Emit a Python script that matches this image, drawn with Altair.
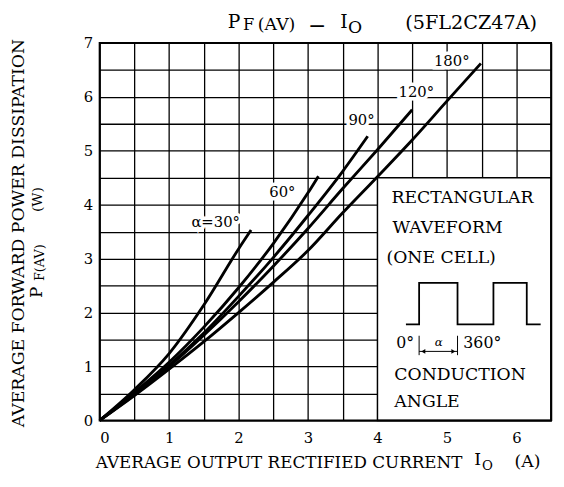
import altair as alt
import pandas as pd

FONT = "DejaVu Serif"

# ---- curve data (IO in A, PF(AV) in W) ----
i_30 = [0, 0.5, 1.0, 1.5, 2.0, 2.18]
p_30 = [0, 0.57, 1.24, 2.14, 3.18, 3.53]
i_60 = [0, 0.5, 1.0, 1.5, 2.0, 2.5, 3.0, 3.15]
p_60 = [0, 0.52, 1.08, 1.73, 2.46, 3.28, 4.22, 4.53]
i_90 = [0, 0.5, 1.0, 1.5, 2.0, 2.5, 3.0, 3.5, 3.86]
p_90 = [0, 0.49, 1.02, 1.62, 2.30, 3.02, 3.80, 4.62, 5.27]
i_120 = [0, 0.5, 1.0, 1.5, 2.0, 2.5, 3.0, 3.5, 4.0, 4.5]
p_120 = [0, 0.48, 1.00, 1.58, 2.20, 2.86, 3.56, 4.30, 5.02, 5.76]
i_180 = [0, 0.5, 1.0, 1.5, 2.0, 2.5, 3.0, 3.5, 4.0, 4.5, 5.0, 5.49]
p_180 = [0, 0.46, 0.95, 1.46, 2.00, 2.56, 3.15, 3.85, 4.52, 5.20, 5.92, 6.62]

curve_names = ["30", "60", "90", "120", "180"]
curve_i = [i_30, i_60, i_90, i_120, i_180]
curve_p = [p_30, p_60, p_90, p_120, p_180]

# curve labels (text, anchor in data units)
label_text = ["α=30°", "60°", "90°", "120°", "180°"]
label_x = [1.67, 2.63, 3.77, 4.56, 5.07]
label_y = [3.67, 4.23, 5.57, 6.09, 6.67]

# axis ticks / grid
x_ticks = [v / 2 for v in range(0, 14)]
y_ticks = [v / 2 for v in range(0, 15)]

# inset box and waveform drawing (data units)
box_x = [4.0, 6.5]
box_y = [0.0, 4.5]
wave_x = [4.41, 4.60, 4.60, 5.153, 5.153, 5.67, 5.67, 6.15, 6.15, 6.35]
wave_y = [1.78, 1.78, 2.55, 2.55, 1.78, 1.78, 2.55, 2.55, 1.78, 1.78]
mark_x = [4.60, 5.153]
mark_y = [1.21, 1.57]
arrow_y = 1.28

rows = []
for name, xs_, ys_ in zip(curve_names, curve_i, curve_p):
    for k, (a, b) in enumerate(zip(xs_, ys_)):
        rows.append({"angle": name, "k": k, "I": a, "P": b})
curves = pd.DataFrame(rows)

xs = alt.Scale(domain=[0, 6.5], nice=False, zero=False)
ys = alt.Scale(domain=[0, 7], nice=False, zero=False)

LBL = "datum.value % 1 == 0 ? format(datum.value, 'd') : ''"
xaxis = alt.Axis(values=x_ticks, labelExpr=LBL,
                 title=None, grid=True, ticks=False, domain=False, labelPadding=10,
                 labelFontSize=15, labelFont=FONT, labelColor="black",
                 gridColor="black", gridWidth=1.3, gridOpacity=1, labelAngle=0,
                 labelOverlap=False)
yaxis = alt.Axis(values=y_ticks, labelExpr=LBL,
                 title=None, grid=True, ticks=False, domain=False, labelPadding=7,
                 labelFontSize=15, labelFont=FONT, labelColor="black",
                 gridColor="black", gridWidth=1.3, gridOpacity=1, labelOverlap=False)


def X(f):
    return alt.X(f, scale=xs, axis=xaxis)


def Y(f):
    return alt.Y(f, scale=ys, axis=yaxis)


box_df = pd.DataFrame({"x0": [box_x[0]], "x1": [box_x[1]], "y0": [box_y[0]], "y1": [box_y[1]]})
box = alt.Chart(box_df).mark_rect(fill="white", stroke="black", strokeWidth=1.5).encode(
    x=X("x0:Q"), x2="x1", y=Y("y0:Q"), y2="y1")

lines = alt.Chart(curves).mark_line(color="black", strokeWidth=2.9, strokeCap="butt",
                                    interpolate="monotone").encode(
    x=X("I:Q"), y=Y("P:Q"), detail="angle:N", order="k:Q")

lab_df = pd.DataFrame({"t": label_text, "x": label_x, "y": label_y})
lab_halo = alt.Chart(lab_df).mark_text(font=FONT, fontSize=15, stroke="white", strokeWidth=7,
                                       fill="white").encode(
    x=X("x:Q"), y=Y("y:Q"), text="t:N")
lab = alt.Chart(lab_df).mark_text(font=FONT, fontSize=15, color="black").encode(
    x=X("x:Q"), y=Y("y:Q"), text="t:N")

wave_df = pd.DataFrame({"x": wave_x, "y": wave_y, "k": list(range(len(wave_x)))})
wave = alt.Chart(wave_df).mark_line(color="black", strokeWidth=1.8).encode(
    x=X("x:Q"), y=Y("y:Q"), order="k:Q")

mk_df = pd.DataFrame({"x": mark_x, "y0": [mark_y[0]] * 2, "y1": [mark_y[1]] * 2})
marks = alt.Chart(mk_df).mark_rule(color="black", strokeWidth=1).encode(
    x=X("x:Q"), y=Y("y0:Q"), y2="y1")
arr_df = pd.DataFrame({"x0": [mark_x[0]], "x1": [mark_x[1]], "y": [arrow_y]})
arrow = alt.Chart(arr_df).mark_rule(color="black", strokeWidth=1).encode(
    x=X("x0:Q"), x2="x1", y=Y("y:Q"))
head_df = pd.DataFrame({"x": [mark_x[0] + 0.06, mark_x[1] - 0.06], "y": [arrow_y] * 2,
                        "s": ["triangle-left", "triangle-right"]})
heads = alt.Chart(head_df).mark_point(filled=True, color="black", size=22, opacity=1).encode(
    x=X("x:Q"), y=Y("y:Q"),
    shape=alt.Shape("s:N", scale=None, legend=None))

frame_df = pd.DataFrame({"x0": [0.0], "x1": [6.5], "y0": [0.0], "y1": [7.0]})
frame = alt.Chart(frame_df).mark_rect(fill=None, stroke="black", strokeWidth=2).encode(
    x=X("x0:Q"), x2="x1", y=Y("y0:Q"), y2="y1")


def txt(s, x, y, size, align="left", baseline="alphabetic", angle=0, style="normal"):
    return alt.Chart(pd.DataFrame({"t": [s]})).mark_text(
        font=FONT, fontSize=size, align=align, baseline=baseline, angle=angle,
        fontStyle=style, color="black").encode(
        x=alt.value(x), y=alt.value(y), text="t:N")


texts = [
    # title
    txt("P", 130, -15, 19),
    txt("F", 145.5, -13.3, 16.5),
    txt("(AV)", 160.5, -13.3, 17.5),
    txt("−", 220.5, -17.5, 22, align="center", baseline="middle"),
    txt("I", 244, -15, 19),
    txt("O", 252, -10, 17.5),
    txt("(5FL2CZ47A)", 310, -14.5, 19.5),
    # x title
    txt("AVERAGE OUTPUT RECTIFIED CURRENT", -4, 431, 17.0),
    txt("I", 380, 428, 17.5),
    txt("O", 388, 433, 13.5),
    txt("(A)", 421, 430, 17.5),
    # y title
    txt("AVERAGE FORWARD POWER DISSIPATION", -82, 193, 17.5, align="center",
        baseline="middle", angle=270),
    txt("(W)", -58, 159, 14, align="center", baseline="alphabetic", angle=270),
    txt("P", -59, 253, 17, align="center", baseline="alphabetic", angle=270),
    txt("F(AV)", -56, 223, 13, align="center", baseline="alphabetic", angle=270),
    # inset texts
    txt("RECTANGULAR", 296, 157, 17.5, baseline="middle"),
    txt("WAVEFORM", 297, 188, 17.5, baseline="middle"),
    txt("(ONE CELL)", 291, 218, 17.5, baseline="middle"),
    txt("0°", 301, 305, 16, baseline="middle"),
    txt("α", 344, 303, 12, align="center", baseline="middle", style="italic"),
    txt("360°", 369, 305, 16, baseline="middle"),
    txt("CONDUCTION", 299, 337, 17.5, baseline="middle"),
    txt("ANGLE", 299, 364, 17.5, baseline="middle"),
]

chart = alt.layer(box, lines, lab_halo, lab, wave, marks, arrow, heads, frame,
                  *texts).properties(
    width=458, height=383, autosize="none",
    padding={"left": 93, "top": 32, "right": 5, "bottom": 56},
).configure_view(stroke=None).configure(background="white")

chart.save("out.html", embed_options={"renderer": "svg", "actions": False})
